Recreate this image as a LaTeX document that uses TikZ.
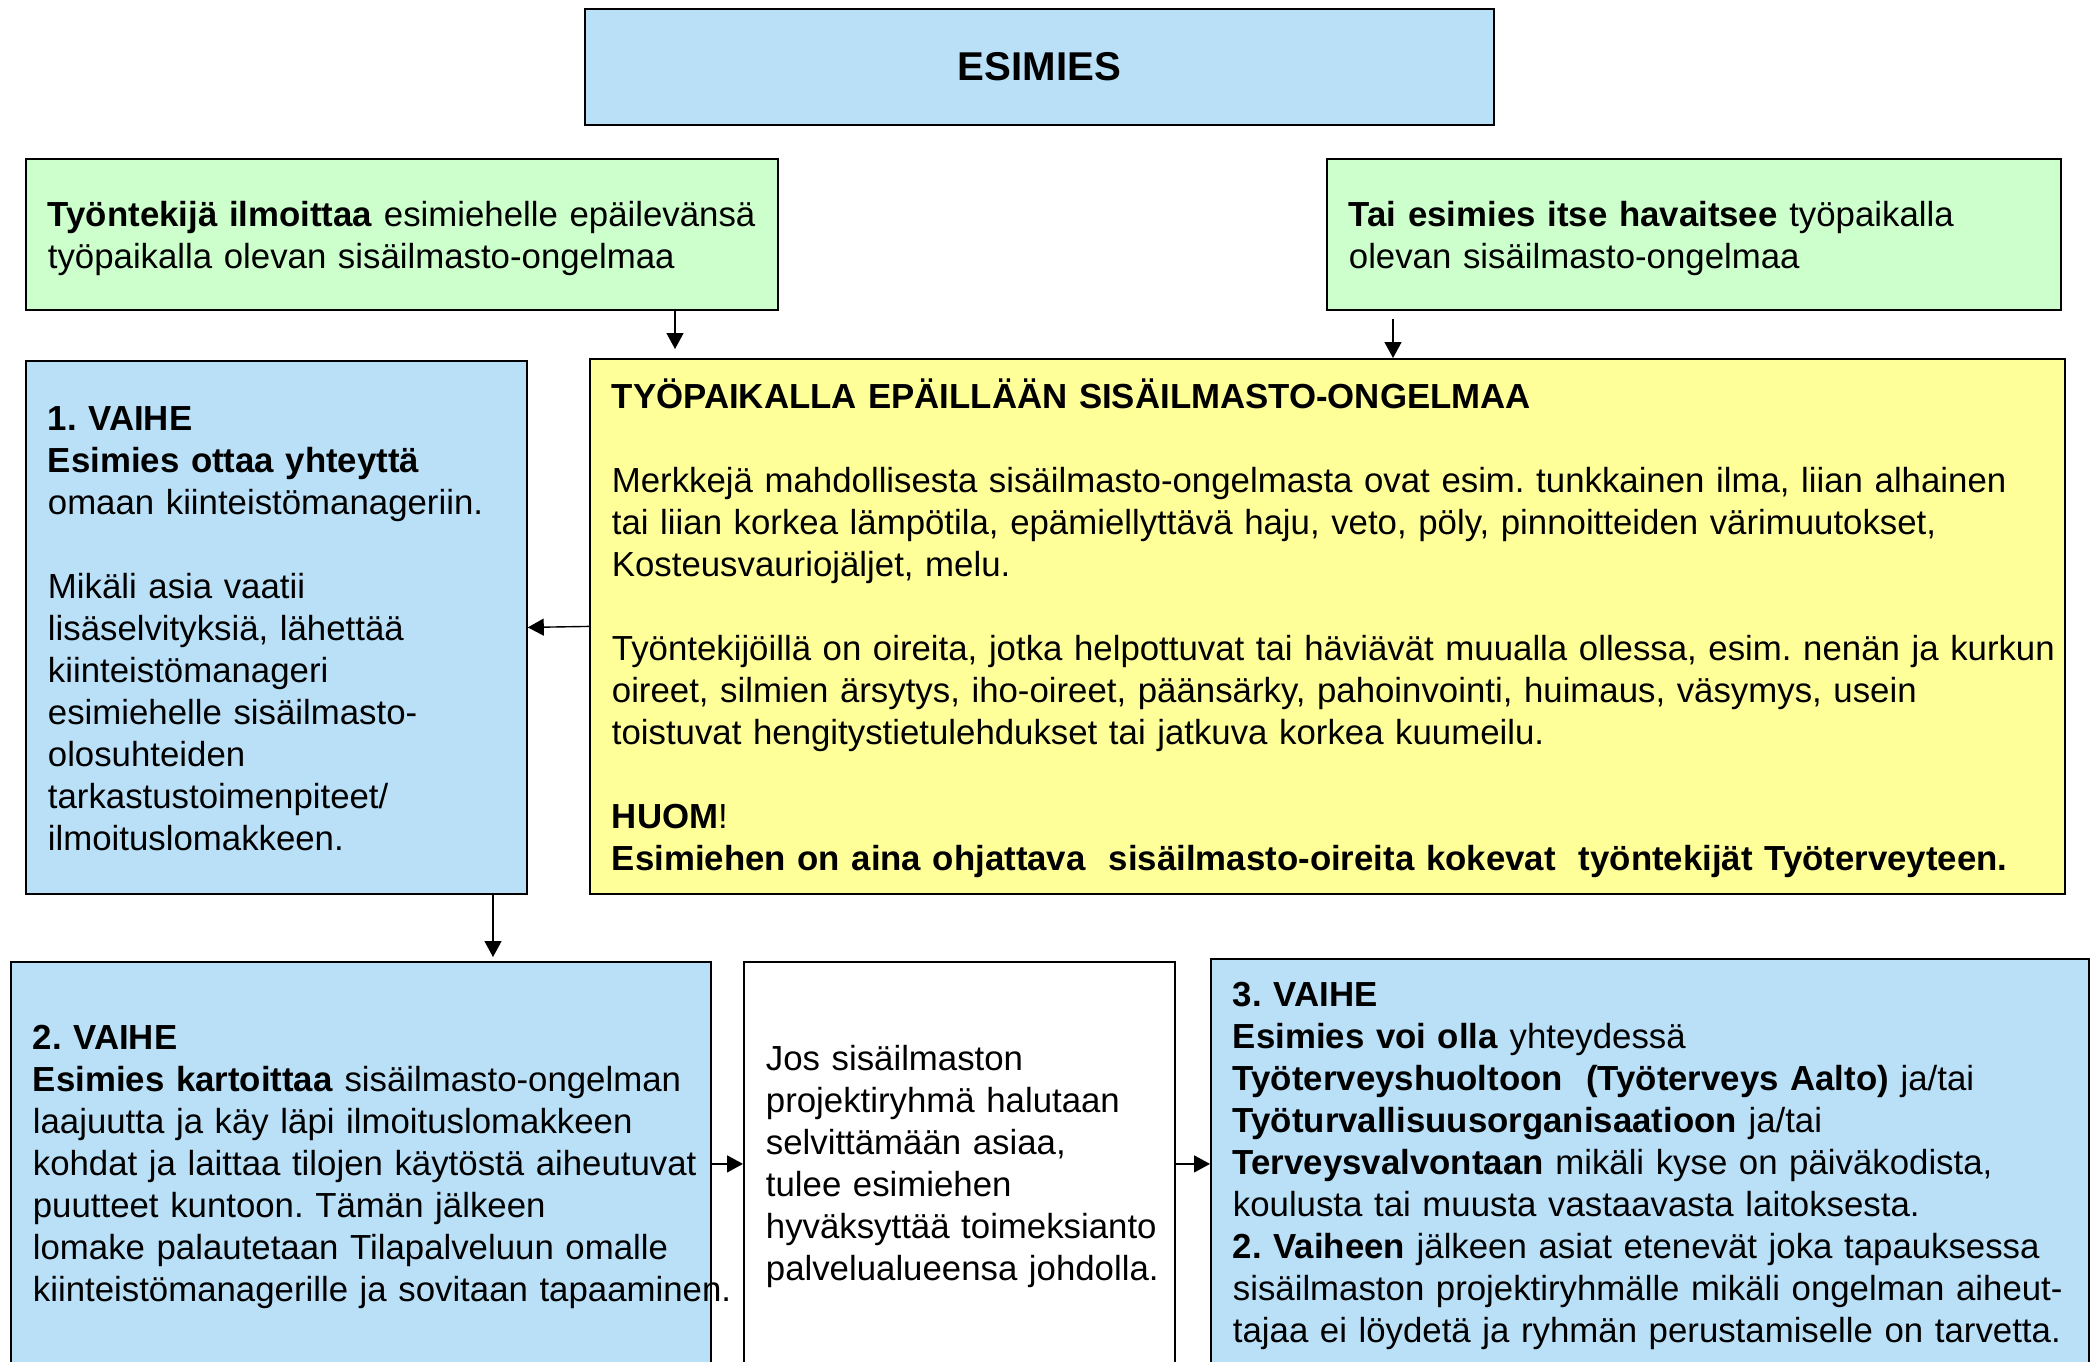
\documentclass[tikz,border=0pt]{standalone}
\usepackage{fontspec}
\setmainfont{Liberation Sans}
\usetikzlibrary{arrows.meta,positioning}
\tikzset{>={Triangle[length=8pt,width=8.5pt]}}
\definecolor{vaihesininen}{HTML}{B9E0F7}
\definecolor{ilmoitusvihrea}{HTML}{CCFFCC}
\definecolor{epailykeltainen}{HTML}{FFFF99}
\newcommand{\alkutuki}{\rule{0pt}{19.4pt}}
\tikzset{
  laatikko/.style={draw, line width=0.9pt, anchor=north west, inner xsep=11pt, inner ysep=0pt,
    align=left, font=\fontsize{17.4}{21}\selectfont\frenchspacing},
  nuoli/.style={->, line width=0.7pt}
}

\begin{document}
\begin{tikzpicture}[x=0.5pt,y=-0.5pt]
\useasboundingbox (0,0) rectangle (2096,1361);
\node[laatikko, fill=vaihesininen, align=center, minimum width=454.5pt, minimum height=58pt,
  font=\fontsize{20.1}{24}\selectfont\bfseries] (esimies) at (584,8) {ESIMIES};
\node[laatikko, fill=ilmoitusvihrea, minimum width=376pt, minimum height=75.5pt, text width=354pt]
  (tyontekija) at (25,158) {\begin{tabular}{@{}l@{}}
  \alkutuki\textbf{Työntekijä ilmoittaa} esimiehelle epäilevänsä\\
  työpaikalla olevan sisäilmasto-ongelmaa
  \end{tabular}};
\node[laatikko, fill=ilmoitusvihrea, minimum width=367pt, minimum height=75.5pt, text width=345pt]
  (havaitsee) at (1326,158) {\begin{tabular}{@{}l@{}}
  \alkutuki\textbf{Tai esimies itse havaitsee} työpaikalla\\
  olevan sisäilmasto-ongelmaa
  \end{tabular}};
\node[laatikko, fill=vaihesininen, minimum width=250.5pt, minimum height=266.5pt, text width=228.5pt]
  (vaihe1) at (25,360) {\begin{tabular}{@{}l@{}}
  \alkutuki\textbf{1. VAIHE}\\
  \textbf{Esimies ottaa yhteyttä}\\
  omaan kiinteistömanageriin.\\
  \\
  Mikäli asia vaatii\\
  lisäselvityksiä, lähettää\\
  kiinteistömanageri\\
  esimiehelle sisäilmasto-\\
  olosuhteiden\\
  tarkastustoimenpiteet/\\
  ilmoituslomakkeen.
  \end{tabular}};
\node[laatikko, fill=epailykeltainen, minimum width=737.5pt, minimum height=267.5pt, text width=715.5pt]
  (epaily) at (589,358) {\begin{tabular}{@{}l@{}}
  \alkutuki\textbf{TYÖPAIKALLA EPÄILLÄÄN SISÄILMASTO-ONGELMAA}\\
  \\
  Merkkejä mahdollisesta sisäilmasto-ongelmasta ovat esim. tunkkainen ilma, liian alhainen\\
  tai liian korkea lämpötila, epämiellyttävä haju, veto, pöly, pinnoitteiden värimuutokset,\\
  Kosteusvauriojäljet, melu.\\
  \\
  Työntekijöillä on oireita, jotka helpottuvat tai häviävät muualla ollessa, esim. nenän ja kurkun\\
  oireet, silmien ärsytys, iho-oireet, päänsärky, pahoinvointi, huimaus, väsymys, usein\\
  toistuvat hengitystietulehdukset tai jatkuva korkea kuumeilu.\\
  \\
  \textbf{HUOM}!\\
  \textbf{Esimiehen on aina ohjattava\ \ sisäilmasto-oireita kokevat\ \ työntekijät Työterveyteen.}
  \end{tabular}};
\node[laatikko, fill=vaihesininen, minimum width=350pt, minimum height=205.5pt, text width=328pt]
  (vaihe2) at (10,961) {\begin{tabular}{@{}l@{}}
  \textbf{2. VAIHE}\\
  \textbf{Esimies kartoittaa} sisäilmasto-ongelman\\
  laajuutta ja käy läpi ilmoituslomakkeen\\
  kohdat ja laittaa tilojen käytöstä aiheutuvat\\
  puutteet kuntoon. Tämän jälkeen\\
  lomake palautetaan Tilapalveluun omalle\\
  kiinteistömanagerille ja sovitaan tapaaminen.
  \end{tabular}};
\node[laatikko, fill=white, minimum width=215.5pt, minimum height=205.5pt, text width=193.5pt]
  (selvitys) at (743,961) {\begin{tabular}{@{}l@{}}
  Jos sisäilmaston\\
  projektiryhmä halutaan\\
  selvittämään asiaa,\\
  tulee esimiehen\\
  hyväksyttää toimeksianto\\
  palvelualueensa johdolla.
  \end{tabular}};
\node[laatikko, fill=vaihesininen, minimum width=439pt, minimum height=207pt, text width=417pt]
  (vaihe3) at (1210,958) {\begin{tabular}{@{}l@{}}
  \textbf{3. VAIHE}\\
  \textbf{Esimies voi olla} yhteydessä\\
  \textbf{Työterveyshuoltoon\ \ (Työterveys Aalto)} ja/tai\\
  \textbf{Työturvallisuusorganisaatioon} ja/tai\\
  \textbf{Terveysvalvontaan} mikäli kyse on päiväkodista,\\
  koulusta tai muusta vastaavasta laitoksesta.\\
  \textbf{2. Vaiheen} jälkeen asiat etenevät joka tapauksessa\\
  sisäilmaston projektiryhmälle mikäli ongelman aiheut-\\
  tajaa ei löydetä ja ryhmän perustamiselle on tarvetta.
  \end{tabular}};
\draw[nuoli, shorten >=4.5pt] (tyontekija.south -| 675,0) -- (epaily.north -| 675,0);
\draw[nuoli, shorten <=4pt] (havaitsee.south -| 1393,0) -- (epaily.north -| 1393,0);
\draw[nuoli] (epaily.west) -- (vaihe1.east);
\draw[nuoli, shorten >=2pt] (vaihe1.south -| 493,0) -- (vaihe2.north -| 493,0);
\draw[nuoli] ([yshift=1.75pt]vaihe2.east) -- ([yshift=1.75pt]selvitys.west);
\draw[nuoli] ([yshift=1.75pt]selvitys.east) -- ([yshift=1.75pt]selvitys.east -| vaihe3.west);
\end{tikzpicture}
\end{document}
